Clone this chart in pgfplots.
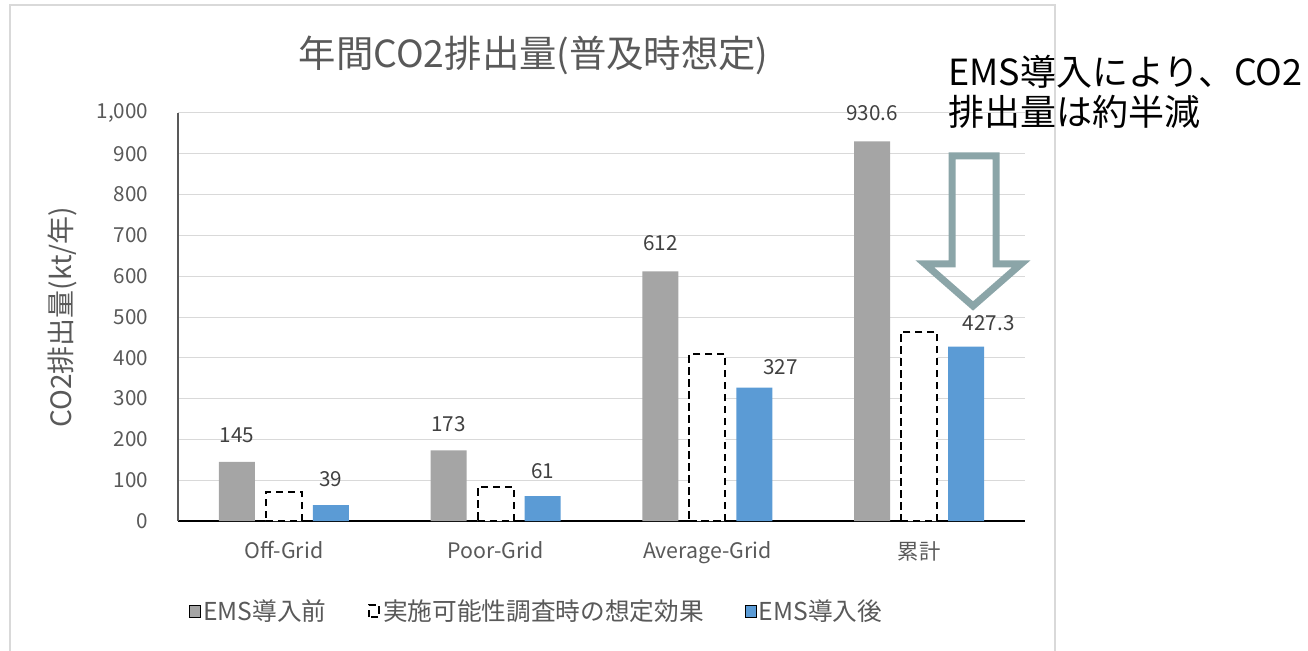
\documentclass[border=0pt]{standalone}
\usepackage{pgfplots}
\pgfplotsset{compat=1.18}
\usepackage{fontspec}
\setmainfont{Noto Sans CJK JP}
\definecolor{bargray}{HTML}{A5A5A5}
\definecolor{barblue}{HTML}{5B9BD5}
\definecolor{gridgray}{HTML}{D9D9D9}
\definecolor{txtgray}{HTML}{595959}
\definecolor{lblgray}{HTML}{404040}
\definecolor{arrowc}{HTML}{8BA5A8}
\pgfplotstableread{
x y dx dy
0 145 0 20
1 173 0 19.5
2 612 0 21
3 930.6 0 21
}\before
\pgfplotstableread{
x y
0 71
1 84
2 409
3 464
}\expected
\pgfplotstableread{
x y dx dy
0 39 0 19.5
1 61 0 19
2 327 19.5 15
3 427.3 17 18
}\after
\begin{document}
\begin{tikzpicture}
\path[use as bounding box] (0,0) rectangle (981pt,487.5pt);
\begin{scope}[x=0.75pt,y=-0.75pt,shift={(0,487.5pt)}]
\draw[gridgray, line width=1pt] (10,700) -- (10,5) -- (1055,5) -- (1055,700);
\end{scope}
\begin{axis}[
  at={(133.5pt,96.75pt)}, anchor=south west,
  scale only axis, width=635.25pt, height=306pt,
  xmin=-0.5, xmax=3.5, ymin=0, ymax=1000,
  ybar=8.25pt, bar width=27pt,
  xtick={0,1,2,3},
  xticklabels={Off-Grid,Poor-Grid,Average-Grid,累計},
  ytick={0,100,...,1000},
  major tick length=0pt,
  ymajorgrids, grid style={gridgray, line width=0.75pt},
  axis x line*=bottom, axis y line*=left,
  x axis line style={black, line width=0.9pt, -},
  y axis line style={txtgray, line width=0.9pt, -},
  /pgf/number format/assume math mode=true,
  yticklabel style={font=\fontsize{15.5pt}{17pt}\selectfont, text=txtgray, anchor=east, inner sep=0pt, xshift=-22pt},
  xticklabel style={font=\fontsize{16pt}{18pt}\selectfont, text=txtgray, anchor=north, inner sep=0pt, yshift=-15pt},
  ylabel={CO2排出量(kt/年)},
  every axis y label/.style={at={(axis description cs:-0.137,0.5)}, rotate=90, anchor=center, font=\fontsize{21pt}{24pt}\selectfont, text=txtgray},
  title={年間CO2排出量(普及時想定)},
  every axis title/.style={at={(axis description cs:0.42,1.142)}, anchor=center, font=\fontsize{28pt}{32pt}\selectfont, text=txtgray},
  legend style={at={(axis description cs:0.424,-0.2206)}, anchor=center, draw=none, legend columns=3,
    font=\fontsize{18.5pt}{21pt}\selectfont, text=txtgray,
    /tikz/every even column/.append style={column sep=29pt}},
  legend image code/.code={\draw[#1] (0pt,-4.5pt) rectangle (8pt,4.5pt);},
]
\addplot[fill=bargray, draw=none,
  visualization depends on={\thisrow{dx} \as \dx},
  visualization depends on={\thisrow{dy} \as \dy},
  nodes near coords={\pgfmathprintnumber{\pgfplotspointmeta}},
  every node near coord/.append style={font=\fontsize{15.5pt}{17pt}\selectfont, text=lblgray, anchor=center, xshift=\dx pt, yshift=\dy pt}] table[x=x,y=y] {\before};
\addlegendentry{EMS導入前}
\addplot[fill=white, draw=black, line width=1.5pt, dash pattern=on 5.5pt off 3.5pt] table[x=x,y=y] {\expected};
\addlegendentry{実施可能性調査時の想定効果}
\addplot[fill=barblue, draw=none,
  visualization depends on={\thisrow{dx} \as \dx},
  visualization depends on={\thisrow{dy} \as \dy},
  nodes near coords={\pgfmathprintnumber{\pgfplotspointmeta}},
  every node near coord/.append style={font=\fontsize{15.5pt}{17pt}\selectfont, text=lblgray, anchor=center, xshift=\dx pt, yshift=\dy pt}] table[x=x,y=y] {\after};
\addlegendentry{EMS導入後}
\end{axis}
\begin{scope}[x=0.75pt,y=-0.75pt,shift={(0,487.5pt)}]
\draw[arrowc, line width=5.25pt, line join=miter] (952,156) -- (996,156) -- (996,264) -- (1021,264) -- (973,306) -- (925,264) -- (952,264) -- cycle;
\node[anchor=west, inner sep=0pt, font=\fontsize{27pt}{30pt}\selectfont] at (948,72) {EMS導入により、CO2};
\node[anchor=west, inner sep=0pt, font=\fontsize{27pt}{30pt}\selectfont] at (948,112) {排出量は約半減};
\end{scope}
\end{tikzpicture}
\end{document}
